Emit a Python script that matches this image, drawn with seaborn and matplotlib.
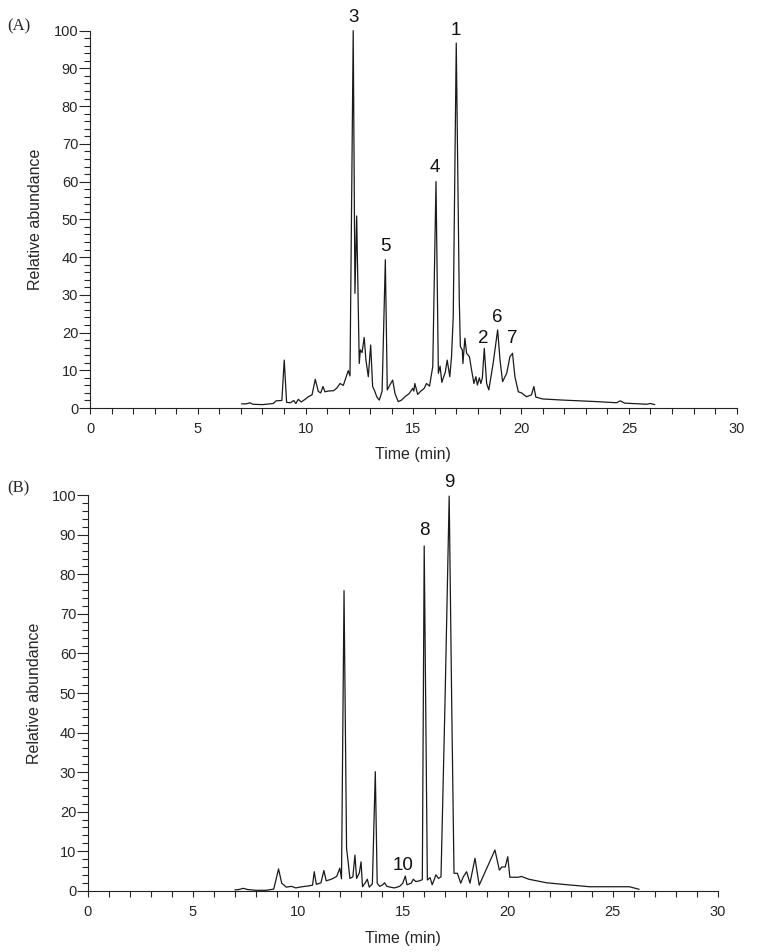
import pandas as pd
import matplotlib.pyplot as plt
import seaborn as sns
from matplotlib.ticker import MultipleLocator

# Chromatogram (A): retention time (min) and relative abundance
time_a = [7.03, 7.25, 7.42, 7.55, 8.0, 8.5, 8.63, 8.9, 9.01, 9.12, 9.3, 9.45, 9.55, 9.66, 9.8,
          10.0, 10.13, 10.3, 10.45, 10.59, 10.7, 10.81, 10.9, 11.05, 11.3, 11.45, 11.6, 11.75, 11.98,
          12.06, 12.21, 12.29, 12.37, 12.49, 12.54, 12.62, 12.72, 12.8, 12.91, 13.02, 13.11, 13.2,
          13.3, 13.42, 13.55, 13.7, 13.79, 13.9, 14.04, 14.15, 14.3, 14.45, 14.61, 14.8, 14.97,
          15.02, 15.07, 15.2, 15.35, 15.5, 15.61, 15.75, 15.9, 16.05, 16.16, 16.24, 16.32, 16.48,
          16.57, 16.69, 16.77, 16.85, 16.99, 17.13, 17.18, 17.27, 17.3, 17.39, 17.47, 17.6, 17.7,
          17.81, 17.9, 17.97, 18.06, 18.13, 18.2, 18.29, 18.4, 18.5, 18.7, 18.91, 19.02, 19.14,
          19.33, 19.48, 19.6, 19.71, 19.87, 20.02, 20.25, 20.48, 20.59, 20.68, 21.0, 21.95, 23.5,
          24.43, 24.6, 24.8, 25.82, 26.0, 26.2]
abund_a = [1.1, 1.1, 1.4, 1.0, 0.9, 1.2, 1.9, 2.0, 12.7, 1.5, 1.4, 2.0, 1.2, 2.3, 1.6,
           2.4, 3.0, 3.5, 7.6, 4.4, 4.0, 5.7, 4.3, 4.5, 4.6, 5.3, 6.5, 6.0, 9.9,
           8.5, 100.0, 30.4, 50.9, 11.8, 15.4, 14.7, 18.7, 12.7, 8.3, 16.7, 5.7, 4.6,
           3.0, 2.1, 4.5, 39.3, 4.8, 6.0, 7.4, 3.8, 1.7, 2.1, 3.0, 3.8, 5.2,
           4.5, 6.5, 3.6, 4.5, 5.2, 6.5, 5.8, 11.0, 60.0, 9.2, 11.1, 6.8, 9.5,
           12.7, 8.3, 13.6, 24.2, 96.7, 28.6, 16.3, 15.4, 11.8, 18.5, 14.5, 13.6, 10.1,
           6.5, 8.3, 6.1, 8.0, 6.5, 8.0, 15.8, 6.5, 4.8, 11.8, 20.7, 12.7, 7.0,
           9.2, 13.6, 14.5, 8.3, 4.3, 4.0, 3.0, 3.5, 5.7, 2.9, 2.4, 2.1, 1.7,
           1.4, 1.9, 1.3, 1.0, 1.2, 0.9]

# Chromatogram (B)
time_b = [7.0, 7.2, 7.4, 7.6, 8.0, 8.5, 8.85, 9.08, 9.23, 9.45, 9.7, 9.9, 10.2, 10.5, 10.7,
          10.78, 10.88, 11.1, 11.24, 11.35, 11.6, 11.85, 12.0, 12.08, 12.2, 12.32, 12.38, 12.48,
          12.62, 12.72, 12.8, 12.93, 13.01, 13.08, 13.2, 13.31, 13.4, 13.55, 13.69, 13.78, 13.9,
          14.05, 14.13, 14.24, 14.4, 14.6, 14.85, 15.0, 15.12, 15.2, 15.4, 15.5, 15.62, 15.8,
          15.93, 16.02, 16.17, 16.3, 16.4, 16.58, 16.7, 16.82, 17.01, 17.21, 17.33, 17.44, 17.6,
          17.76, 17.88, 18.04, 18.2, 18.44, 18.64, 19.39, 19.6, 19.72, 19.88, 20.0, 20.1, 20.5,
          20.66, 21.0, 21.85, 22.64, 23.9, 25.0, 25.8, 26.26]
abund_b = [0.2, 0.3, 0.6, 0.3, 0.1, 0.1, 0.4, 5.5, 1.9, 0.9, 1.1, 0.7, 1.0, 1.2, 1.4,
           4.8, 1.6, 2.0, 5.1, 2.5, 2.9, 3.6, 5.7, 3.0, 75.9, 10.7, 8.0, 3.1,
           3.5, 9.0, 3.1, 4.5, 7.3, 1.0, 1.9, 2.9, 0.9, 1.7, 30.1, 1.9, 1.1,
           1.5, 2.0, 1.1, 0.9, 0.7, 1.1, 1.9, 3.7, 1.5, 1.9, 2.9, 2.3, 2.5,
           2.8, 87.2, 2.7, 3.3, 1.5, 4.0, 3.1, 3.5, 47.4, 99.8, 47.4, 4.4, 4.4,
           1.9, 3.5, 4.8, 1.9, 8.2, 1.4, 10.3, 5.2, 6.0, 6.0, 8.6, 3.4, 3.4,
           3.6, 2.9, 2.0, 1.6, 1.0, 1.0, 1.0, 0.35]

# Peak numbers and where they sit (x = retention time, y = bottom of the number)
peaks_a = ["3", "1", "4", "5", "2", "6", "7"]
peaks_a_x = [12.21, 16.99, 16.0, 13.7, 18.24, 18.91, 19.6]
peaks_a_y = [101.3, 97.8, 61.5, 40.6, 16.3, 21.8, 16.1]

peaks_b = ["9", "8", "10"]
peaks_b_x = [17.21, 16.05, 15.0]
peaks_b_y = [101.2, 88.9, 4.2]

sns.set_style("ticks")
plt.rcParams['font.family'] = ['Liberation Sans', 'DejaVu Sans']

fig = plt.figure(figsize=(7.57, 9.52), dpi=100)
ax_a = fig.add_axes([0.1189, 0.5714, 0.8543, 0.3964])
ax_b = fig.add_axes([0.1162, 0.0644, 0.8318, 0.4153])

panels = [
    (ax_a, time_a, abund_a, peaks_a, peaks_a_x, peaks_a_y, "(A)", 26),
    (ax_b, time_b, abund_b, peaks_b, peaks_b_x, peaks_b_y, "(B)", 488),
]

for ax, t, v, names, px, py, tag, tag_y in panels:
    df = pd.DataFrame({"Time": t, "Abundance": v})
    sns.lineplot(data=df, x="Time", y="Abundance", ax=ax, color="#1a1a1a",
                 linewidth=0.9, estimator=None, sort=False, clip_on=False)

    for name, x, y in zip(names, px, py):
        ax.text(x, y, name, ha="center", va="bottom", fontsize=13.5, color="#111111")

    ax.set_xlim(0, 30)
    ax.set_ylim(0, 100)
    ax.xaxis.set_major_locator(MultipleLocator(5))
    ax.xaxis.set_minor_locator(MultipleLocator(1))
    ax.yaxis.set_major_locator(MultipleLocator(10))
    ax.yaxis.set_minor_locator(MultipleLocator(2))
    ax.tick_params(axis="x", which="both", direction="out", length=4.5, width=0.8,
                   labelsize=10.5, pad=5.5)
    ax.tick_params(axis="y", which="major", direction="out", length=8, width=0.8,
                   labelsize=10.5, pad=0.5)
    ax.tick_params(axis="y", which="minor", direction="out", length=4.5, width=0.8)

    ax.set_xlabel("Time (min)", fontsize=11.5)
    ax.set_ylabel("Relative abundance", fontsize=11.5)
    ax.xaxis.set_label_coords(0.5, -0.103)
    ax.yaxis.set_label_coords(-0.073, 0.5)

    sns.despine(ax=ax)
    for side in ["left", "bottom"]:
        ax.spines[side].set_linewidth(0.8)
        ax.spines[side].set_color("#222222")

    fig.text(7 / 757, 1 - tag_y / 952, tag, ha="left", va="center",
             fontsize=12, family=["Liberation Serif", "DejaVu Serif"])

plt.savefig("out.png", dpi=100)
